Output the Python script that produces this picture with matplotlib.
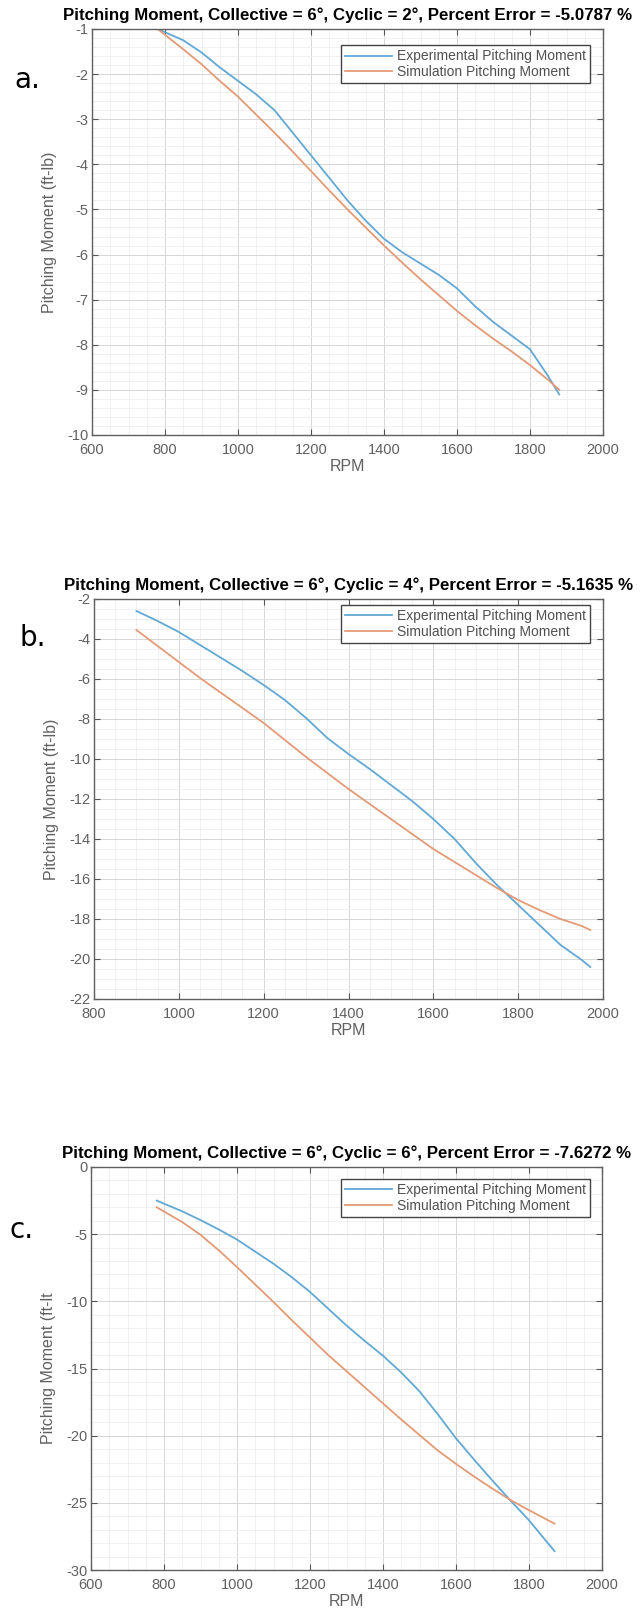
import matplotlib
matplotlib.use("Agg")
import matplotlib.pyplot as plt
from matplotlib.ticker import MultipleLocator

plt.rcParams["font.family"] = ["Liberation Sans", "DejaVu Sans"]
plt.rcParams["axes.unicode_minus"] = False

# panel a: collective 6, cyclic 2
rpm_a = [780, 850, 900, 950, 1000, 1050, 1100, 1150, 1200, 1250, 1300, 1350,
         1400, 1450, 1500, 1550, 1600, 1650, 1700, 1750, 1800, 1850, 1880]
exp_a = [-1.0, -1.25, -1.52, -1.85, -2.15, -2.45, -2.8, -3.3, -3.8, -4.3, -4.8, -5.25,
         -5.65, -5.95, -6.2, -6.45, -6.75, -7.15, -7.5, -7.8, -8.1, -8.7, -9.1]
sim_a = [-1.0, -1.45, -1.78, -2.15, -2.5, -2.9, -3.3, -3.72, -4.15, -4.58, -5.0, -5.4,
         -5.8, -6.18, -6.55, -6.9, -7.25, -7.57, -7.87, -8.15, -8.45, -8.78, -9.0]

# panel b: collective 6, cyclic 4
rpm_b = [900, 950, 1000, 1050, 1100, 1150, 1200, 1250, 1300, 1350, 1400, 1450,
         1500, 1550, 1600, 1650, 1700, 1750, 1800, 1850, 1900, 1950, 1970]
exp_b = [-2.6, -3.1, -3.65, -4.3, -4.95, -5.6, -6.3, -7.05, -7.95, -8.95, -9.75, -10.5,
         -11.3, -12.1, -13.0, -14.0, -15.2, -16.3, -17.3, -18.3, -19.3, -20.05, -20.4]
sim_b = [-3.55, -4.35, -5.15, -5.95, -6.7, -7.45, -8.2, -9.05, -9.9, -10.7, -11.5, -12.25,
         -13.0, -13.75, -14.5, -15.15, -15.8, -16.45, -17.05, -17.55, -18.0, -18.35, -18.55]

# panel c: collective 6, cyclic 6
rpm_c = [780, 850, 900, 950, 1000, 1050, 1100, 1150, 1200, 1250, 1300, 1350,
         1400, 1450, 1500, 1550, 1600, 1650, 1700, 1750, 1800, 1870]
exp_c = [-2.5, -3.3, -3.95, -4.65, -5.4, -6.3, -7.2, -8.2, -9.3, -10.55, -11.8, -12.95,
         -14.05, -15.3, -16.7, -18.4, -20.2, -21.8, -23.35, -24.85, -26.3, -28.6]
sim_c = [-3.0, -4.1, -5.05, -6.2, -7.45, -8.75, -10.05, -11.4, -12.7, -14.0, -15.2, -16.4,
         -17.6, -18.8, -19.95, -21.1, -22.1, -23.05, -23.95, -24.8, -25.55, -26.55]

titles = [
    "Pitching Moment, Collective = 6°, Cyclic = 2°, Percent Error = -5.0787 %",
    "Pitching Moment, Collective = 6°, Cyclic = 4°, Percent Error = -5.1635 %",
    "Pitching Moment, Collective = 6°, Cyclic = 6°, Percent Error = -7.6272 %",
]
ylabels = ["Pitching Moment (ft-lb)", "Pitching Moment (ft-lb)", "Pitching Moment (ft-lt"]
panel_tags = ["a.", "b.", "c."]

W, H = 643, 1621
fig = plt.figure(figsize=(W / 100, H / 100), dpi=100)


def px_axes(left, top, right, bottom):
    return fig.add_axes([left / W, 1 - bottom / H, (right - left) / W, (bottom - top) / H])


def draw_panel(ax, rpm, exp, sim, title, ylabel, xlim, ylim, xstep, ystep, yminor, leg_anchor):
    ax.plot(rpm, exp, color="#62a8d4", lw=1.3, label="Experimental Pitching Moment")
    ax.plot(rpm, sim, color="#e39a76", lw=1.3, label="Simulation Pitching Moment")
    ax.set_xlim(*xlim)
    ax.set_ylim(*ylim)
    ax.xaxis.set_major_locator(MultipleLocator(xstep))
    ax.yaxis.set_major_locator(MultipleLocator(ystep))
    ax.xaxis.set_minor_locator(MultipleLocator(50))
    ax.yaxis.set_minor_locator(MultipleLocator(yminor))
    ax.grid(True, which="major", color="#d6d6d6", lw=0.7)
    ax.grid(True, which="minor", color="#ebebeb", lw=0.5)
    ax.set_axisbelow(True)
    ax.tick_params(which="major", direction="in", length=4, top=True, right=True,
                   labelsize=10.5, labelcolor="#606060", color="#555555")
    ax.tick_params(axis="x", pad=6)
    ax.tick_params(axis="y", pad=2.5)
    ax.tick_params(which="minor", length=0)
    for s in ax.spines.values():
        s.set_color("#606060")
        s.set_linewidth(1.0)
    ax.set_title(title, fontsize=12.2, fontweight="bold", pad=6.5)
    ax.set_xlabel("RPM", fontsize=11.5, color="#606060", labelpad=1)
    ax.set_ylabel(ylabel, fontsize=11.5, color="#606060")
    ax.yaxis.set_label_coords(-0.068, 0.5)
    leg = ax.legend(loc="upper right", bbox_to_anchor=leg_anchor, borderaxespad=0,
                    fontsize=10, fancybox=False, framealpha=1, edgecolor="#444444",
                    handlelength=3.4, handletextpad=0.35, labelspacing=0.12,
                    borderpad=0.3)
    for t in leg.get_texts():
        t.set_color("#505050")
    leg.get_frame().set_linewidth(1.0)


ax_a = px_axes(92, 29, 603, 435)
draw_panel(ax_a, rpm_a, exp_a, sim_a, titles[0], ylabels[0], (600, 2000), (-10, -1),
           200, 1, 0.2, (0.975, 0.96))
ax_b = px_axes(94, 599, 603, 999)
draw_panel(ax_b, rpm_b, exp_b, sim_b, titles[1], ylabels[1], (800, 2000), (-22, -2),
           200, 2, 0.5, (0.975, 0.985))
ax_c = px_axes(91, 1167, 602, 1570)
draw_panel(ax_c, rpm_c, exp_c, sim_c, titles[2], ylabels[2], (600, 2000), (-30, 0),
           200, 5, 1, (0.977, 0.97))

tag_pos = [(27, 80), (33, 638), (22, 1230)]
for tag, (x, y) in zip(panel_tags, tag_pos):
    fig.text(x / W, 1 - y / H, tag, fontsize=20, ha="center", va="center",
             family="DejaVu Sans")

fig.savefig("out.png", dpi=100)
